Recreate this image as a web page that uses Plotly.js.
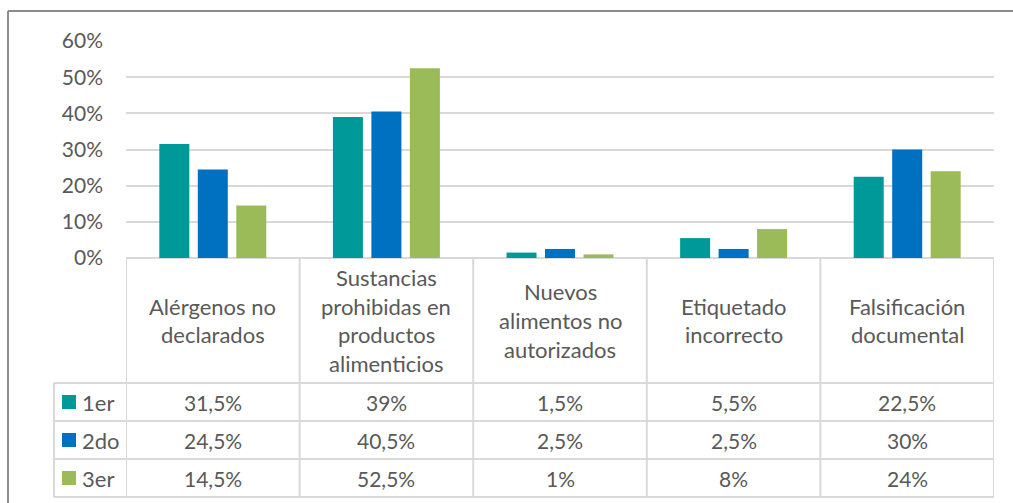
<!DOCTYPE html>
<html>
<head>
<meta charset="utf-8">
<script src="https://cdn.plot.ly/plotly-3.0.1.min.js"></script>
<style>
  html, body { margin: 0; padding: 0; background: #fff; }
  #chart { width: 1013px; height: 503px; }
</style>
</head>
<body>
<div id="chart"></div>
<script>
// categories (header lines split by <br>)
const categories = [
  "Alérgenos no<br>declarados",
  "Sustancias<br>prohibidas en<br>productos<br>alimenticios",
  "Nuevos<br>alimentos no<br>autorizados",
  "Etiquetado<br>incorrecto",
  "Falsificación<br>documental",
];
const seriesNames = ["1er", "2do", "3er"];
const first = [31.5, 39, 1.5, 5.5, 22.5];
const second = [24.5, 40.5, 2.5, 2.5, 30];
const third = [14.5, 52.5, 1, 8, 24];
const seriesValues = [first, second, third];
const yTicks = [0, 10, 20, 30, 40, 50, 60];

const COLORS = ["#009999", "#0070c0", "#9bbb59"];
const TEXT = "#595959";
const LINE = "#d9d9d9";
const FONT = "Lato, 'Open Sans', sans-serif";
const SIZE = 21, HEAD_SIZE = 22;

// pixel geometry of the figure (plot area 126..994 x 41..258)
const W = 1013, H = 503;
const M = { l: 126, r: W - 994, t: 41, b: H - 258 };
const plotW = W - M.l - M.r, plotH = H - M.t - M.b;
const px = (x) => (x - M.l) / plotW;      // pixel x -> paper
const py = (y) => (H - M.b - y) / plotH;  // pixel y -> paper

const xs = categories.map((_, i) => i);
const fmt = (v) => String(v).replace(".", ",") + "%";

const traces = seriesValues.map((vals, s) => ({
  type: "bar",
  x: xs,
  y: vals,
  name: seriesNames[s],
  marker: { color: COLORS[s] },
  hoverinfo: "skip",
}));

const shapes = [];
const annotations = [];
const lineStyle = { color: LINE, width: 2 };

// table rows (pixel y of boundaries)
const headerTop = 258, headerBottom = 383, rowH = 38;
const rowLines = [0, 1, 2, 3].map((r) => headerBottom + r * rowH);

// vertical column lines
for (let c = 0; c <= categories.length; c++) {
  shapes.push({
    type: "line", xref: "x", yref: "paper",
    x0: c - 0.5, x1: c - 0.5, y0: py(headerTop), y1: py(rowLines[3]),
    line: lineStyle, layer: "below",
  });
}
// legend column left edge
shapes.push({
  type: "line", xref: "paper", yref: "paper",
  x0: px(54), x1: px(54), y0: py(rowLines[0]), y1: py(rowLines[3]),
  line: lineStyle,
});
// horizontal row lines
rowLines.forEach((y) => {
  shapes.push({
    type: "line", xref: "paper", yref: "paper",
    x0: px(54), x1: 1, y0: py(y), y1: py(y), line: lineStyle,
  });
});

// header labels, one annotation per line
const headerMid = (headerTop + headerBottom) / 2;
const linePitch = 28.8;
categories.forEach((label, i) => {
  const lines = label.split("<br>");
  lines.forEach((t, k) => {
    const yy = headerMid + (k - (lines.length - 1) / 2) * linePitch;
    annotations.push({
      xref: "x", yref: "paper", x: i, y: py(yy),
      text: t, showarrow: false, xanchor: "center", yanchor: "middle",
      font: { family: FONT, size: HEAD_SIZE, color: TEXT },
    });
  });
});

// data rows
seriesValues.forEach((vals, s) => {
  const yc = rowLines[s] + rowH / 2;
  // legend key
  shapes.push({
    type: "rect", xref: "paper", yref: "paper",
    x0: px(62), x1: px(76), y0: py(yc - 7), y1: py(yc + 7),
    fillcolor: COLORS[s], line: { width: 0 },
  });
  annotations.push({
    xref: "paper", yref: "paper", x: px(80), y: py(yc),
    text: seriesNames[s], showarrow: false, xanchor: "left", yanchor: "middle",
    font: { family: FONT, size: HEAD_SIZE, color: TEXT },
  });
  vals.forEach((v, i) => {
    annotations.push({
      xref: "x", yref: "paper", x: i, y: py(yc),
      text: fmt(v), showarrow: false, xanchor: "center", yanchor: "middle",
      font: { family: FONT, size: SIZE, color: TEXT },
    });
  });
});

// outer chart border (only top and left edges visible in frame)
const borderStyle = { color: "#8c8c8c", width: 2 };
shapes.push(
  { type: "line", xref: "paper", yref: "paper", x0: px(8), x1: px(1100), y0: py(11), y1: py(11), line: borderStyle },
  { type: "line", xref: "paper", yref: "paper", x0: px(8), x1: px(8), y0: py(11), y1: py(600), line: borderStyle }
);

const layout = {
  width: W,
  height: H,
  margin: M,
  paper_bgcolor: "#ffffff",
  plot_bgcolor: "#ffffff",
  font: { family: FONT, size: SIZE, color: TEXT },
  barmode: "group",
  bargap: 0.335,
  bargroupgap: 0.22,
  showlegend: false,
  xaxis: {
    type: "linear",
    range: [-0.5, categories.length - 0.5],
    showticklabels: false,
    showgrid: false,
    zeroline: false,
    showline: false,
    fixedrange: true,
  },
  yaxis: {
    range: [0, 60],
    tickvals: yTicks,
    ticktext: yTicks.map((t) => t + "%"),
    showgrid: true,
    gridcolor: LINE,
    gridwidth: 2,
    zeroline: true,
    zerolinecolor: LINE,
    zerolinewidth: 2,
    showline: false,
    ticks: "",
    ticklabelstandoff: 22,
    tickfont: { family: FONT, size: SIZE, color: TEXT },
    fixedrange: true,
  },
  shapes,
  annotations,
};

Plotly.newPlot("chart", traces, layout, { displayModeBar: false, staticPlot: true });
</script>
</body>
</html>
